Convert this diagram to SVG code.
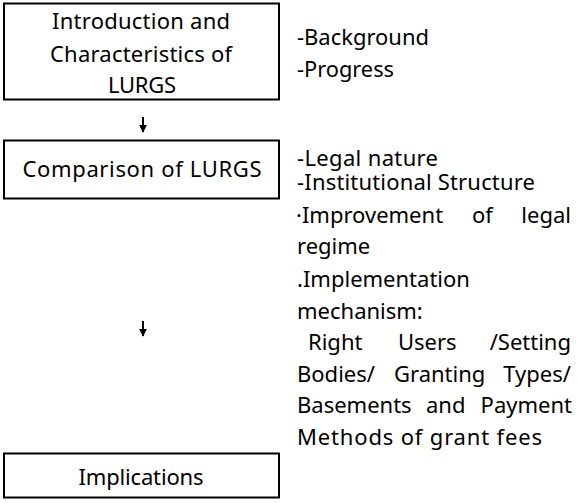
<svg xmlns="http://www.w3.org/2000/svg" width="579" height="503" viewBox="0 0 579 503">
<defs>
<marker id="ah" viewBox="0 0 10 10" refX="9" refY="5" markerWidth="4" markerHeight="4" markerUnits="strokeWidth" orient="auto">
<path d="M0,0 L10,5 L0,10 z" fill="#000"/>
</marker>
</defs>
<style>
text{font-family:"Noto Sans","Liberation Sans",sans-serif;font-size:22px;fill:#000}
.box{fill:#fff;stroke:#000;stroke-width:2}
.c{text-anchor:middle}
.e{text-anchor:end}
.arr{stroke:#000;stroke-width:2;fill:none;marker-end:url(#ah)}
</style>
<rect width="579" height="503" fill="#fff"/>
<g id="node-intro">
<rect class="box" x="4" y="3.5" width="275" height="96"/>
<text class="c" x="141" y="29" textLength="178" lengthAdjust="spacing">Introduction and</text>
<text class="c" x="141" y="62" textLength="182" lengthAdjust="spacing">Characteristics of</text>
<text class="c" x="142" y="93" textLength="68" lengthAdjust="spacing">LURGS</text>
</g>
<g id="node-comparison">
<rect class="box" x="4" y="140.5" width="275" height="58"/>
<text class="c" x="142" y="177" textLength="239" lengthAdjust="spacing">Comparison of LURGS</text>
</g>
<g id="node-implications">
<rect class="box" x="4" y="453.5" width="275" height="44"/>
<text class="c" x="141" y="485" textLength="125" lengthAdjust="spacing">Implications</text>
</g>
<g id="connectors">
<path class="arr" d="M143,117 V132"/>
<path class="arr" d="M143,321 V336"/>
</g>
<g id="notes-intro">
<text x="297" y="45" textLength="132" lengthAdjust="spacingAndGlyphs">-Background</text>
<text x="297" y="77" textLength="97" lengthAdjust="spacingAndGlyphs">-Progress</text>
</g>
<g id="notes-comparison">
<text x="297" y="166" textLength="141" lengthAdjust="spacing">-Legal nature</text>
<text x="297" y="190" textLength="238" lengthAdjust="spacing">-Institutional Structure</text>
<text x="296" y="223">·Improvement</text>
<text x="472" y="223">of</text>
<text class="e" x="571" y="223">legal</text>
<text x="297" y="254">regime</text>
<text x="297" y="287">.Implementation</text>
<text x="297" y="319">mechanism:</text>
<text x="308" y="350">Right</text>
<text x="398" y="350">Users</text>
<text class="e" x="571" y="350">/Setting</text>
<text x="297" y="382">Bodies/</text>
<text x="394" y="382">Granting</text>
<text class="e" x="571" y="382">Types/</text>
<text x="297" y="413">Basements</text>
<text x="426" y="413">and</text>
<text class="e" x="572" y="413">Payment</text>
<text x="297" y="445" textLength="245" lengthAdjust="spacing">Methods of grant fees</text>
</g>
</svg>
